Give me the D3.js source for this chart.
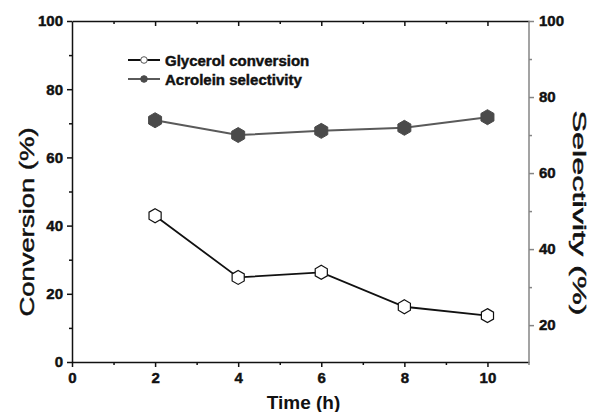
<!DOCTYPE html>
<html><head><meta charset="utf-8">
<script src="https://cdn.jsdelivr.net/npm/d3@7"></script>
<style>
body{margin:0;background:#fff;}
text{font-family:"Liberation Sans",Arial,sans-serif;font-weight:bold;}
.heavy{stroke:#111;stroke-width:0.45px;}
</style></head>
<body><svg id="c" width="592" height="412"></svg>
<script>
const time = [2, 4, 6, 8, 10];
const conversion = [42.9, 24.8, 26.3, 16.2, 13.6];
const selectivity = [73.9, 70.0, 71.1, 71.9, 74.7];
const xTicks = [0, 2, 4, 6, 8, 10];
const xMinor = [1, 3, 5, 7, 9];
const leftTicks = [0, 20, 40, 60, 80, 100];
const leftMinor = [10, 30, 50, 70, 90];
const rightTicks = [20, 40, 60, 80, 100];
const rightMinor = [30, 50, 70, 90];
const seriesNames = ["Glycerol conversion", "Acrolein selectivity"];

const svg = d3.select("#c");
const L = 72, R = 529, T = 21, B = 362;
const x = d3.scaleLinear().domain([0, 11]).range([L, R]);
const yL = d3.scaleLinear().domain([0, 100]).range([B, T]);
const yR = d3.scaleLinear().domain([10.3, 100]).range([B, T]);
const grayAx = "#858585";

function styleAxis(g, color, fs) {
  g.select(".domain").attr("stroke", color).attr("stroke-width", 1.5);
  g.selectAll(".tick line").attr("stroke", color).attr("stroke-width", 1.5);
  g.selectAll(".tick text").attr("fill", "#111").attr("class", "heavy").style("font-size", fs + "px");
}

// bottom axis
const gB = svg.append("g").attr("transform", `translate(0,${B})`)
  .call(d3.axisBottom(x).tickValues(xTicks).tickFormat(d3.format("d")).tickSizeInner(5).tickSizeOuter(0).tickPadding(5));
styleAxis(gB, "#111", 15);
svg.append("g").attr("transform", `translate(0,${B})`)
  .call(d3.axisBottom(x).tickValues(xMinor).tickFormat("").tickSize(3).tickSizeOuter(0))
  .call(g => { g.select(".domain").remove(); g.selectAll("line").attr("stroke", "#111").attr("stroke-width", 1.5); });
// top axis (inward ticks)
const gT = svg.append("g").attr("transform", `translate(0,${T})`)
  .call(d3.axisBottom(x).tickValues(xTicks.filter(d => d > 0)).tickFormat("").tickSize(5).tickSizeOuter(0));
styleAxis(gT, "#111", 15);
svg.append("g").attr("transform", `translate(0,${T})`)
  .call(d3.axisBottom(x).tickValues(xMinor).tickFormat("").tickSize(3).tickSizeOuter(0))
  .call(g => { g.select(".domain").remove(); g.selectAll("line").attr("stroke", "#111").attr("stroke-width", 1.5); });

// left axis
const gL = svg.append("g").attr("transform", `translate(${L},0)`)
  .call(d3.axisLeft(yL).tickValues(leftTicks).tickFormat(d3.format("d")).tickSizeInner(5).tickSizeOuter(0).tickPadding(4));
styleAxis(gL, "#111", 15);
svg.append("g").attr("transform", `translate(${L},0)`)
  .call(d3.axisLeft(yL).tickValues(leftMinor).tickFormat("").tickSize(3).tickSizeOuter(0))
  .call(g => { g.select(".domain").remove(); g.selectAll("line").attr("stroke", "#111").attr("stroke-width", 1.5); });

// right axis
const gR = svg.append("g").attr("transform", `translate(${R},0)`)
  .call(d3.axisRight(yR).tickValues(rightTicks).tickFormat(d3.format("d")).tickSizeInner(5).tickSizeOuter(0).tickPadding(5));
styleAxis(gR, grayAx, 15);
gR.select(".domain").attr("d", `M0,${T}V${B + 3}`);
svg.append("g").attr("transform", `translate(${R},0)`)
  .call(d3.axisRight(yR).tickValues(rightMinor).tickFormat("").tickSize(3).tickSizeOuter(0))
  .call(g => { g.select(".domain").remove(); g.selectAll("line").attr("stroke", grayAx).attr("stroke-width", 1.5); });

// hexagon path (pointy top)
function hex(r) {
  let p = [];
  for (let i = 0; i < 6; i++) {
    const a = Math.PI / 3 * i - Math.PI / 2;
    p.push([r * Math.cos(a), r * Math.sin(a)]);
  }
  return "M" + p.map(q => q.join(",")).join("L") + "Z";
}

// selectivity series
const selData = time.map((t, i) => ({ t, v: selectivity[i] }));
svg.append("path").datum(selData)
  .attr("d", d3.line().x(d => x(d.t)).y(d => yR(d.v)))
  .attr("fill", "none").attr("stroke", "#5a5a5a").attr("stroke-width", 2);
svg.selectAll(".selm").data(selData).enter().append("path")
  .attr("transform", d => `translate(${x(d.t)},${yR(d.v)})`)
  .attr("d", hex(7.5)).attr("fill", "#4a4a4a").attr("stroke", "#4a4a4a").attr("stroke-width", 1);

// conversion series
const convData = time.map((t, i) => ({ t, v: conversion[i] }));
svg.append("path").datum(convData)
  .attr("d", d3.line().x(d => x(d.t)).y(d => yL(d.v)))
  .attr("fill", "none").attr("stroke", "#111").attr("stroke-width", 1.8);
svg.selectAll(".convm").data(convData).enter().append("path")
  .attr("transform", d => `translate(${x(d.t)},${yL(d.v)})`)
  .attr("d", hex(7)).attr("fill", "#fff").attr("stroke", "#111").attr("stroke-width", 1.2);

// legend
const leg = [
  { name: seriesNames[0], y: 60, line: "#111", fill: "#fff", stroke: "#555" },
  { name: seriesNames[1], y: 79, line: "#5a5a5a", fill: "#4a4a4a", stroke: "#4a4a4a" }
];
leg.forEach(l => {
  svg.append("line").attr("x1", 128).attr("x2", 160).attr("y1", l.y).attr("y2", l.y)
    .attr("stroke", l.line).attr("stroke-width", 2);
  svg.append("circle").attr("cx", 144).attr("cy", l.y).attr("r", 3.3)
    .attr("fill", l.fill).attr("stroke", l.stroke).attr("stroke-width", 1);
  svg.append("text").attr("class", "heavy").attr("x", 165).attr("y", l.y + 5.5).style("font-size", "15px")
    .attr("fill", "#111").text(l.name);
});

// axis titles
svg.append("text").attr("x", (L + R) / 2 + 3).attr("y", 409).attr("text-anchor", "middle")
  .style("font-size", "19px").attr("fill", "#111").text("Time (h)");
svg.append("text").attr("transform", "translate(34,222) rotate(-90)").attr("text-anchor", "middle")
  .style("font-size", "20px").style("font-weight", "normal").attr("class", "heavy").attr("fill", "#111")
  .attr("textLength", 189).attr("lengthAdjust", "spacingAndGlyphs").text("Conversion (%)");
svg.append("text").attr("transform", "translate(573,213) rotate(90)").attr("text-anchor", "middle")
  .style("font-size", "19px").style("font-weight", "normal").attr("class", "heavy").attr("fill", "#111")
  .attr("textLength", 205).attr("lengthAdjust", "spacingAndGlyphs").text("Selectivity (%)");
</script></body></html>
